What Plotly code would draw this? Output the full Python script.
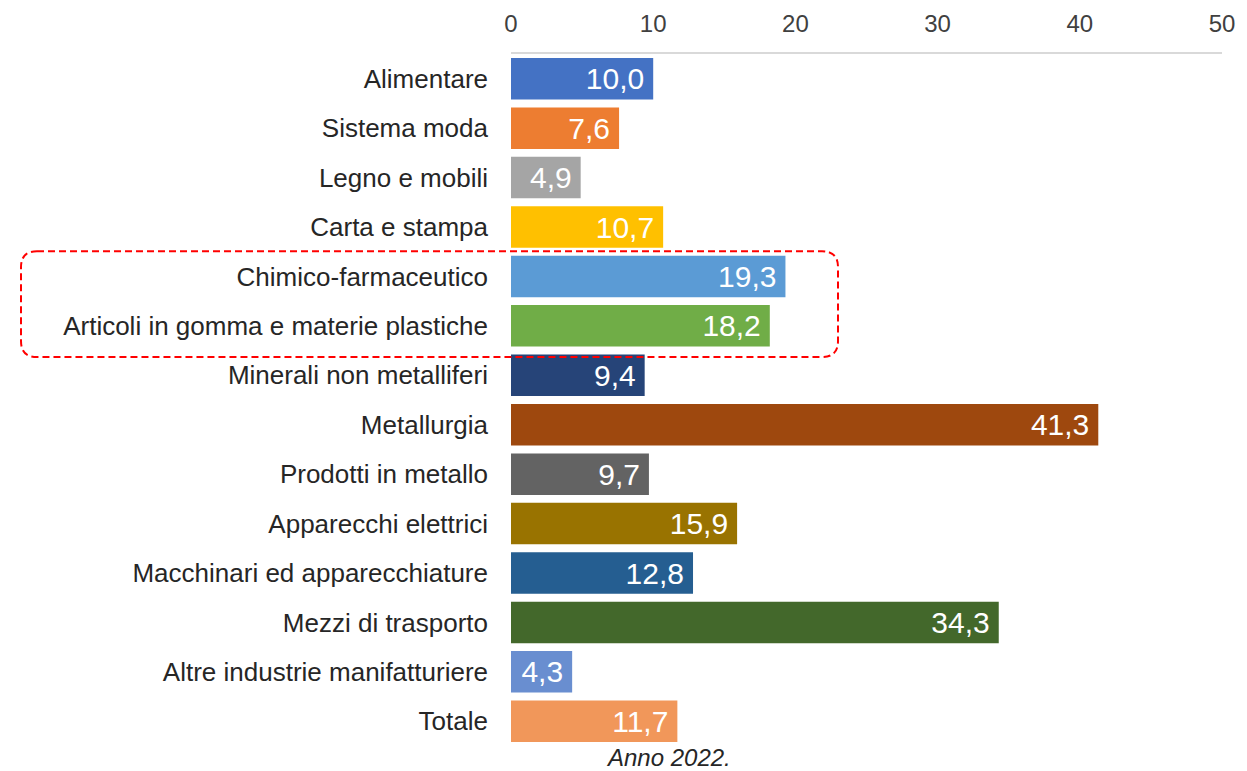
import plotly.graph_objects as go

categories = [
    "Alimentare", "Sistema moda", "Legno e mobili", "Carta e stampa",
    "Chimico-farmaceutico", "Articoli in gomma e materie plastiche",
    "Minerali non metalliferi", "Metallurgia", "Prodotti in metallo",
    "Apparecchi elettrici", "Macchinari ed apparecchiature",
    "Mezzi di trasporto", "Altre industrie manifatturiere", "Totale",
]
values = [10.0, 7.6, 4.9, 10.7, 19.3, 18.2, 9.4, 41.3, 9.7, 15.9, 12.8, 34.3, 4.3, 11.7]
colors = [
    "#4472C4", "#ED7D31", "#A5A5A5", "#FFC000", "#5B9BD5", "#70AD47",
    "#264478", "#9E480E", "#636363", "#997300", "#255E91", "#43682B",
    "#698ED0", "#F1975A",
]
tick_vals = [0, 10, 20, 30, 40, 50]
note = "Anno 2022."

labels = [f"{v:.1f}".replace(".", ",") + "\u2009" for v in values]

# page body has an 8px margin, so the figure is offset by 8px
OFF = 8
W, H = 1247 - OFF, 771 - OFF
PL, PR, PT, PB = 511, 1222, 53.5, 746.5  # plot area in screen pixels
L, R, T, B = PL - OFF, W - (PR - OFF), PT - OFF, H - (PB - OFF)
pw, ph = W - L - R, H - T - B


def px(x):
    return (x - PL) / pw


def py(y):
    return (PB - y) / ph


def rounded_rect(x0, y0, x1, y1, r):
    pts = [
        f"M {px(x0 + r)},{py(y0)}",
        f"L {px(x1 - r)},{py(y0)}",
        f"Q {px(x1)},{py(y0)} {px(x1)},{py(y0 + r)}",
        f"L {px(x1)},{py(y1 - r)}",
        f"Q {px(x1)},{py(y1)} {px(x1 - r)},{py(y1)}",
        f"L {px(x0 + r)},{py(y1)}",
        f"Q {px(x0)},{py(y1)} {px(x0)},{py(y1 - r)}",
        f"L {px(x0)},{py(y0 + r)}",
        f"Q {px(x0)},{py(y0)} {px(x0 + r)},{py(y0)}",
        "Z",
    ]
    return " ".join(pts)


fig = go.Figure(
    go.Bar(
        x=values,
        y=categories,
        orientation="h",
        marker=dict(color=colors, line=dict(width=0)),
        text=labels,
        textposition="inside",
        insidetextanchor="end",
        textfont=dict(color="white", size=30, family="Liberation Sans, Arial, sans-serif"),
        constraintext="none",
        cliponaxis=False,
        hoverinfo="skip",
    )
)

fig.update_layout(
    width=W,
    height=H,
    margin=dict(l=L, r=R, t=T, b=B, pad=0, autoexpand=False),
    paper_bgcolor="white",
    plot_bgcolor="white",
    bargap=0.16,
    showlegend=False,
    font=dict(family="Liberation Sans, Arial, sans-serif", color="#262626"),
    xaxis=dict(
        side="top",
        range=[0, 50],
        tickvals=tick_vals,
        ticktext=[str(t) for t in tick_vals],
        showgrid=False,
        zeroline=False,
        showline=True,
        linecolor="#D9D9D9",
        linewidth=2,
        ticks="",
        automargin=False,
        ticklabelstandoff=10,
        tickfont=dict(size=24, color="#404040"),
    ),
    yaxis=dict(
        autorange="reversed",
        showgrid=False,
        zeroline=False,
        showline=False,
        ticks="",
        automargin=False,
        ticklabelstandoff=22,
        tickfont=dict(size=26, color="#262626"),
    ),
    shapes=[
        dict(
            type="path",
            xref="paper",
            yref="paper",
            path=rounded_rect(21, 251, 838, 357, 16),
            line=dict(color="#FF0000", width=2, dash="7px,4px"),
            fillcolor="rgba(0,0,0,0)",
        )
    ],
    annotations=[
        dict(
            text=note,
            xref="paper",
            yref="paper",
            x=px(668),
            y=py(758),
            xanchor="center",
            yanchor="middle",
            showarrow=False,
            font=dict(size=24, style="italic", color="#262626"),
        )
    ],
)

fig.write_html("out.html")
